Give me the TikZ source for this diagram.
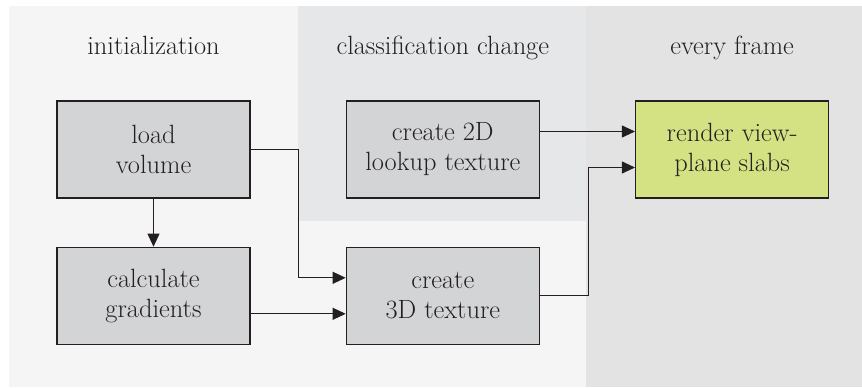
\documentclass[tikz,border=0pt]{standalone}
\usetikzlibrary{arrows.meta}
\usetikzlibrary{positioning}
\usepackage{color}
\definecolor{inkdark}{HTML}{231F20}
\definecolor{initbg}{HTML}{F4F5F4}
\definecolor{classbg}{HTML}{E6E7E8}
\definecolor{framebg}{HTML}{E2E3E2}
\definecolor{taskgray}{HTML}{D3D4D5}
\definecolor{rendergreen}{HTML}{D5E283}
\tikzstyle{task} = [rectangle, minimum width=193pt, minimum height=97pt, inner sep=0pt, align=center, draw=inkdark, line width=1.3pt, fill=taskgray, text=inkdark, font=\fontsize{26.4}{30}\selectfont]
\tikzstyle{render} = [task, fill=rendergreen]
\tikzstyle{phase} = [anchor=base, text=inkdark, font=\fontsize{26.4}{30}\selectfont]
\tikzstyle{arrow} = [draw=inkdark, line width=0.9pt, -{Triangle[length=13pt,width=12pt]}]

\begin{document}
\begin{tikzpicture}[x=1pt, y=1pt]

\useasboundingbox (0,0) rectangle (862,-388);

% stage backgrounds
\fill [initbg] (9,-6) rectangle (862,-387);
\fill [classbg] (298,-6) rectangle (586,-221);
\fill [framebg] (586,-6) rectangle (862,-387);

\node (load) [task] at (153.5,-149.5) {load\\volume};
\node (grad) [task, below=48pt of load] {calculate\\gradients};
\node (lut) [task, right=95pt of load] {create 2D\\lookup texture};
\node (tex) [task, right=95pt of grad] {create\\3D texture};
\node (slabs) [render, right=95pt of lut] {render view-\\plane slabs};

\node (initlabel) [phase] at (load |- 0,-54) {initialization};
\node (classlabel) [phase] at (lut |- 0,-54) {classification change};
\node (framelabel) [phase] at (slabs |- 0,-54) {every frame};

\draw [arrow] (load) -- (grad);
\draw [arrow] (load.east) -- ++(47.5,0) |- ([yshift=18pt]tex.west);
\draw [arrow] ([yshift=-18pt]grad.east) -- ([yshift=-18pt]tex.west);
\draw [arrow] ([yshift=18pt]lut.east) -- ([yshift=18pt]slabs.west);
\draw [arrow] (tex.east) -- ++(48,0) |- ([yshift=-18pt]slabs.west);

\end{tikzpicture}
\end{document}
